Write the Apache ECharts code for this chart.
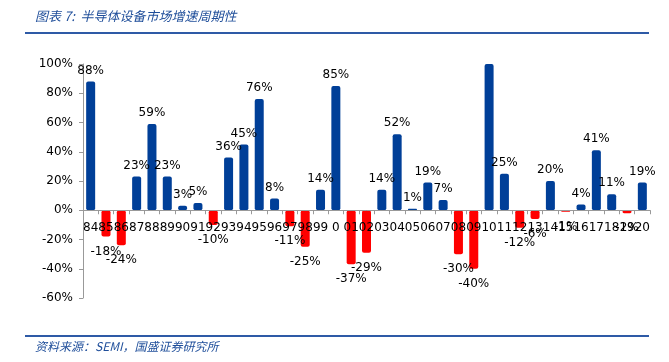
<!DOCTYPE html>
<html><head><meta charset="utf-8">
<script src="https://cdn.jsdelivr.net/npm/echarts@6/dist/echarts.min.js"></script>
<style>html,body{margin:0;padding:0;background:#fff}#c{width:669px;height:362px}</style>
</head><body><div id="c"></div>
<script>
const categories = ['84','85','86','87','88','89','90','91','92','93','94','95','96','97','98','99','0','01','02','03','04','05','06','07','08','09','10','11','12','13','14','15','16','17','18','19','20'];
const growth = [88,-18,-24,23,59,23,3,5,-10,36,45,76,8,-11,-25,14,85,-37,-29,14,52,1,19,7,-30,-40,148,25,-12,-6,20,-1,4,41,11,-2,19];
const yTicks = [-60,-40,-20,0,20,40,60,80,100];
const titleText = '图表 7:  半导体设备市场增速周期性';
const sourceText = '资料来源：SEMI，国盛证券研究所';

const chart = echarts.init(document.getElementById('c'));
const YMIN = yTicks[0], YMAX = yTicks[yTicks.length-1];
const GTOP = 64, GBOTTOM = 64, H = 362;
const gh = H - GTOP - GBOTTOM;
const zeroOffset = -(gh * (0 - YMIN) / (YMAX - YMIN));
chart.setOption({
  animation: false,
  textStyle: {fontFamily: 'DejaVu Sans'},
  grid: {left: 83, right: 19, top: GTOP, bottom: GBOTTOM},
  graphic: [
    {type:'text', left: 35, top: 10, style:{text: titleText, fill:'#1F4E9A', font:'italic 13px "Noto Sans CJK SC"'}},
    {type:'line', shape:{x1:25,y1:33,x2:649,y2:33}, style:{stroke:'#2E5AA6', lineWidth:2}},
    {type:'line', shape:{x1:25,y1:336,x2:649,y2:336}, style:{stroke:'#2E5AA6', lineWidth:2}},
    {type:'text', left: 35, top: 340, style:{text: sourceText, fill:'#1F4E9A', font:'italic 12px "Noto Sans CJK SC"'}}
  ],
  xAxis: {
    type: 'category', data: categories, offset: zeroOffset, z: 10,
    axisLine: {onZero: false, lineStyle: {color: '#999'}},
    axisTick: {show: true, length: 4, lineStyle: {color: '#999'}},
    axisLabel: {interval: 0, color: '#000', fontSize: 12, margin: 12}
  },
  yAxis: {
    type: 'value', min: YMIN, max: YMAX, interval: 20,
    splitLine: {show: false},
    axisLine: {show: true, lineStyle: {color: '#999'}},
    axisTick: {show: true, length: 4, lineStyle: {color: '#999'}},
    axisLabel: {color: '#000', fontSize: 12, formatter: v => v + '%', margin: 10}
  },
  series: [{
    type: 'bar', barWidth: 9, clip: true, z: 1,
    data: growth.map(v => ({
      value: v,
      itemStyle: {color: v >= 0 ? '#003F98' : '#FF0000', borderRadius: 2},
      label: {show: v <= YMAX, position: v >= 0 ? 'top' : 'bottom', distance: v >= 0 ? 5 : 9}
    })),
    label: {color: '#000', fontSize: 12, formatter: p => p.value + '%'}
  }]
});
</script></body></html>
